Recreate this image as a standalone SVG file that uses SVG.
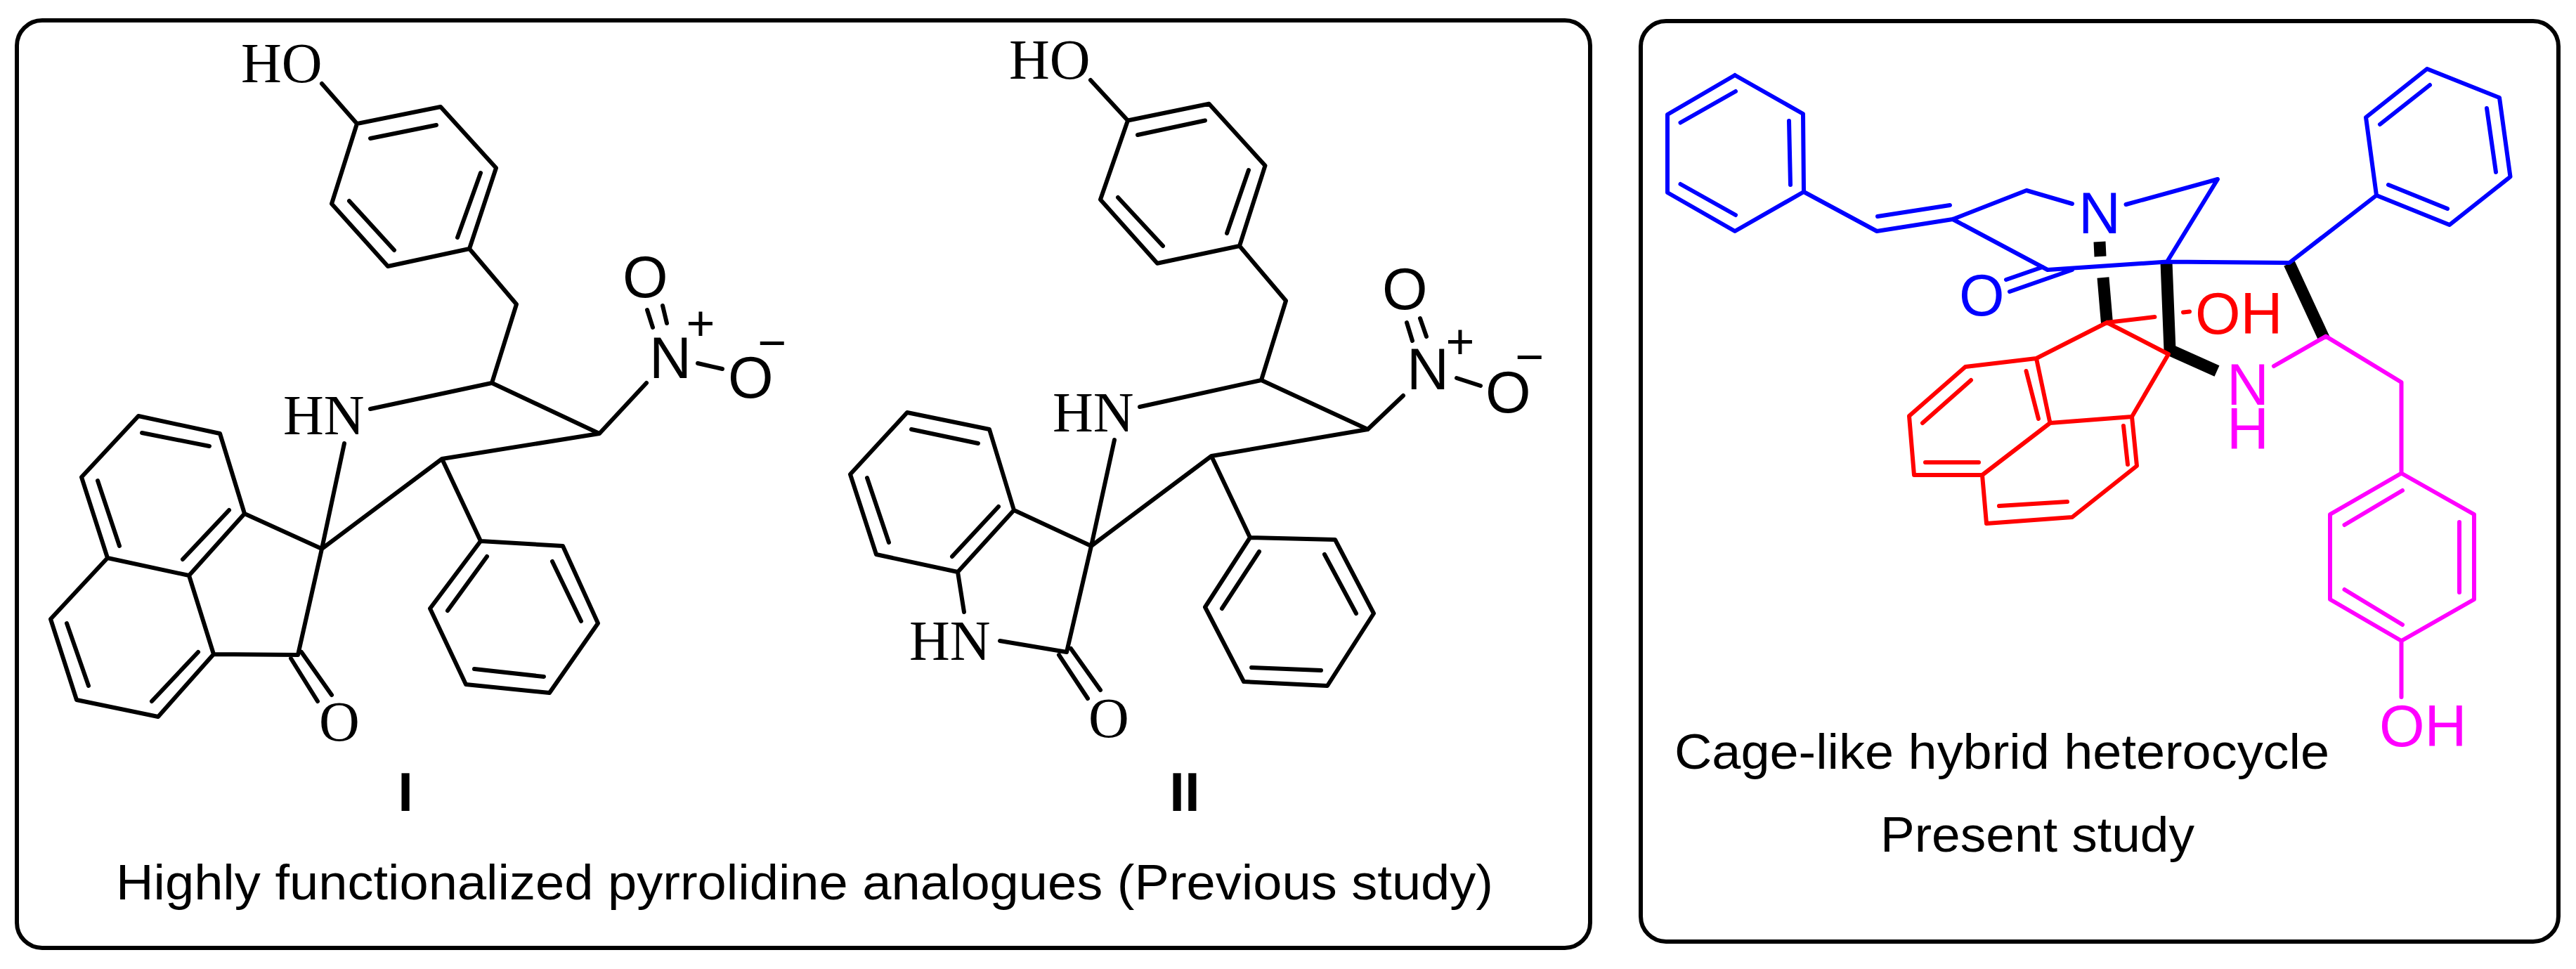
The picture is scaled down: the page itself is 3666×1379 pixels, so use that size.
<svg xmlns="http://www.w3.org/2000/svg" width="3666" height="1379" viewBox="0 0 3666 1379">
<style>
.panel{fill:#fff;stroke:#000;stroke-width:6}
.bond{fill:none;stroke:#000;stroke-width:6;stroke-linecap:round;stroke-linejoin:round}
.blue{stroke:#0000ff}.red{stroke:#ff0000}.mag{stroke:#ff00ff}
.thick{fill:none;stroke:#000;stroke-width:17;stroke-linecap:butt;stroke-linejoin:miter}
.atom{font-family:"Liberation Serif","Times New Roman",serif;font-size:80px;fill:#000}
.chg{font-family:"Liberation Sans",Arial,sans-serif;font-size:70px;fill:#000;text-anchor:middle}
.lab{font-family:"Liberation Sans",Arial,sans-serif;font-size:78px;font-weight:bold;fill:#000;text-anchor:middle}
.cap{font-family:"Liberation Sans",Arial,sans-serif;font-size:70px;fill:#000}
.at2{font-family:"Liberation Sans",Arial,sans-serif;font-size:83px}
</style>
<rect id="panel-left" class="panel" x="24" y="29" width="2239" height="1320" rx="36" ry="36"/>
<rect id="panel-right" class="panel" x="2335" y="30" width="1306" height="1310" rx="36" ry="36"/>

<g id="molecule-I">
<path class="bond" d="M458 119L508 176L627 152L706 239L668 354L552 379L472 290L508 176M527 197L621 178M684 246L651 338M561 356L497 286
M668 354L735 433L700 545L527 582M700 545L853 617L920 545M853 617L629 653L458 781L490 631M629 653L684 770
M684 770L801 777L851 887L782 986L663 974L612 866L684 770M693 792L637 869M786 799L827 884M774 963L675 952
M458 781L348 731L313 617L197 592L116 679L153 794L269 819L348 731M269 819L304 931L225 1020L109 996L72 881L153 794
M298 635L202 616M139 684L170 777M326 726L260 796M282 928L216 998M126 976L95 887
M458 781L424 932L304 931M414 937L452 998M429 928L472 989
M921 441L929 466M943 435L949 460M993 517L1028 525"/>
<text class="atom" x="343" y="117">HO</text>
<text class="atom" x="403" y="618">HN</text>
<text class="at2" x="924" y="538" fill="#000">N</text>
<text class="at2" x="886" y="423" fill="#000">O</text>
<text class="at2" x="1036" y="566" fill="#000">O</text>
<text class="atom" x="454" y="1054">O</text>
<text class="chg" x="997" y="484">+</text>
<text class="chg" x="1099" y="512">−</text>
<text class="lab" x="577" y="1154">I</text>
</g>

<g id="molecule-II">
<path class="bond" d="M1552 114L1605 171.5L1720.6 147.8L1800.5 235.7L1764 350L1647 374.7L1566 284L1605 171.5M1619 192L1715 171.5M1777 242L1746 332M1655 350L1591 281
M1764 350L1830 428L1795 541L1622 579M1795 541L1946.5 611L1997 563M1946.5 611L1724 649L1553 777L1586 626M1724 649L1779 765
M1779 765L1900 768L1955 873L1889 976L1770 970L1715 864L1779 765M1792 785L1739 866M1885 789L1930 873M1880 954L1781 950
M1553 777L1443 726L1408 611L1291 587L1210 675L1247 789L1363 814L1443 726M1392 631L1297 611M1234 680L1265 772M1421 721L1355 792
M1363 814L1372 871M1553 777L1518 928L1423 912M1507 932L1548 994M1524 923L1566 982
M2002 459L2010 485M2021 453L2030 479M2073 538L2107 549"/>
<text class="atom" x="1436" y="112">HO</text>
<text class="atom" x="1498" y="614">HN</text>
<text class="atom" x="1294" y="939">HN</text>
<text class="at2" x="2002" y="554" fill="#000">N</text>
<text class="at2" x="1967" y="440" fill="#000">O</text>
<text class="at2" x="2114" y="587" fill="#000">O</text>
<text class="atom" x="1549" y="1049">O</text>
<text class="chg" x="2078" y="510">+</text>
<text class="chg" x="2177" y="532">−</text>
<text class="lab" x="1686" y="1154">II</text>
</g>

<text id="caption-left" class="cap" x="165" y="1280" textLength="1960" lengthAdjust="spacingAndGlyphs">Highly functionalized pyrrolidine analogues (Previous study)</text>

<g id="molecule-cage">
<g id="cage-black">
<path class="thick" d="M2988 344L2989 365M2993 395L2998.5 460M3083 373L3088 498L3155 528M3258 375L3308 483"/>
</g>
<g id="cage-red">
<path class="bond red" d="M2998.5 459L3066.5 451M3107 444.5L3116 443.5M2998.5 459L3086 504L3034 593M2998.5 459L2898 510L2797 522L2717 592L2724 676L2821 676L2917.5 602L2898 510M2883.5 528L2901 596M2805 541L2736 602M2740 658L2816 658M2917.5 602L3034 593L3041 663L2949 736L2827 745L2821 676M3022 606L3028 661M2942 714L2845 720"/>
<text class="at2" x="3124" y="475" fill="#ff0000">OH</text>
</g>
<g id="cage-blue">
<path class="bond blue" d="M2469 107L2566 162L2567 273L2469 329L2373 274L2373 163L2469 107M2546 172L2548 263M2391.5 174.5L2470 130M2391.5 262L2470 306M2567 273L2671 329L2779 312L2884 271L2949 290M2672 308L2775 292M2779 312L2914 384L3084 372.5L3258 374L3382 278M3025.5 291L3156 255L3084 372.5M3382 278L3367 167L3454 98L3557 139L3572.5 251.5L3486 320L3382 278M3387 177L3458 121M3539 154L3552 245M3399 263L3483 297M2907 380L2855 398M2949 384L2860 415"/>
<text class="at2" x="2958" y="332" fill="#0000ff">N</text>
<text class="at2" x="2788" y="449" fill="#0000ff">O</text>
</g>
<g id="cage-magenta">
<path class="bond mag" d="M3236 521L3310 478.6L3417.5 544L3417.5 673.5L3521 732L3521 853L3417.5 912L3316 853L3316 732L3417.5 673.5M3419 698L3336.5 747M3500 743L3500 843M3336.5 839L3419 889M3417.5 912L3417.5 992"/>
<text class="at2" x="3169" y="576" fill="#ff00ff">N</text>
<text class="at2" x="3169" y="639" fill="#ff00ff">H</text>
<text class="at2" x="3386" y="1061.5" fill="#ff00ff">OH</text>
</g>
</g>
<text id="caption-right-1" class="cap" x="2383" y="1094" textLength="932" lengthAdjust="spacingAndGlyphs">Cage-like hybrid heterocycle</text>
<text id="caption-right-2" class="cap" x="2676" y="1212" textLength="447" lengthAdjust="spacingAndGlyphs">Present study</text>
</svg>
